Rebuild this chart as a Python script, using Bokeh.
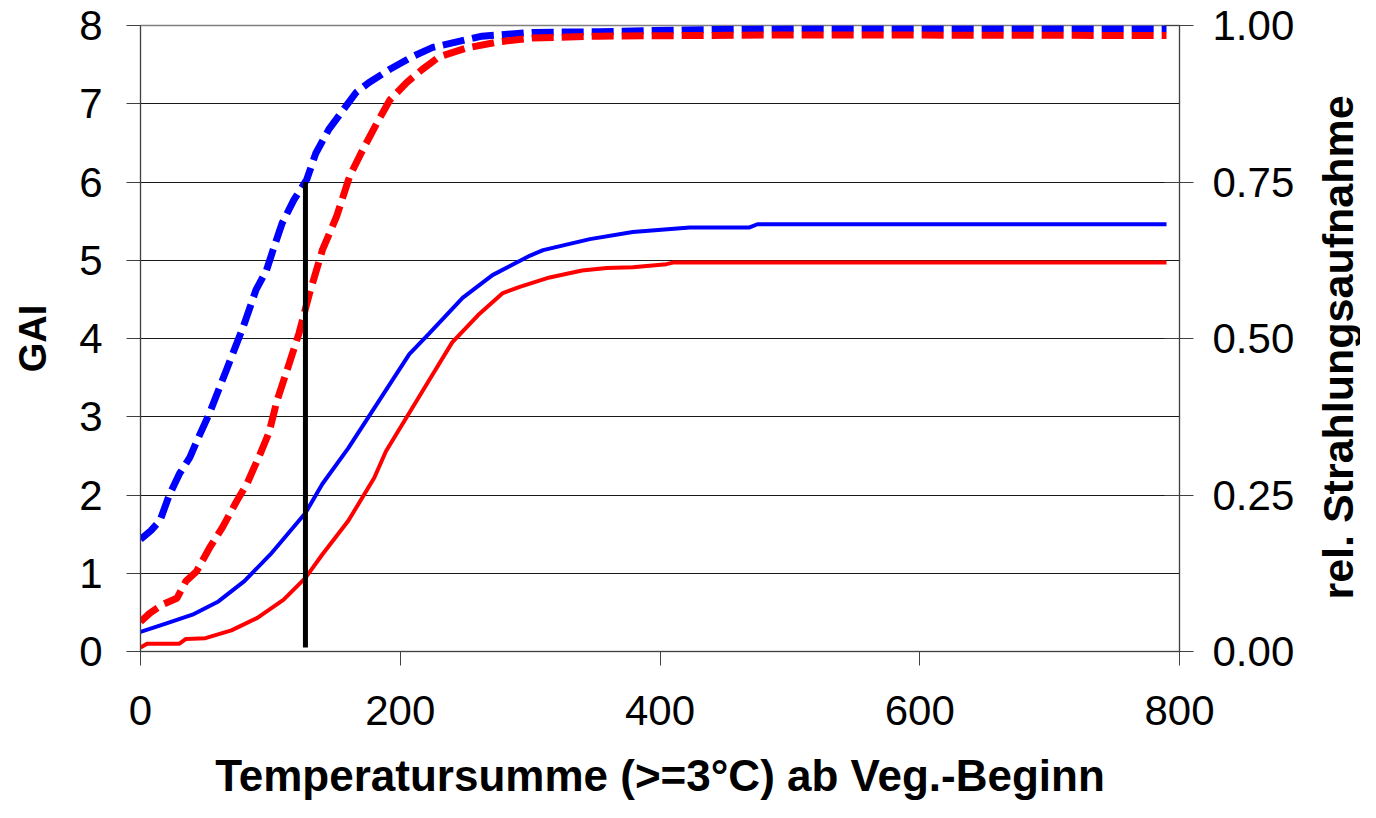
from bokeh.plotting import figure
from bokeh.layouts import row
from bokeh.models import Range1d, LinearAxis, FixedTicker, NumeralTickFormatter, Label
from bokeh.embed import file_html
from bokeh.resources import INLINE

# Temperature sum (x) and GAI (left axis) - solid lines
t_gai_blue = [0, 20, 40, 60, 80, 100, 127, 140, 160, 187, 207, 222, 248, 271, 300, 310, 346, 379, 423, 469, 475, 790]
gai_blue = [0.25, 0.36, 0.47, 0.64, 0.9, 1.24, 1.77, 2.14, 2.6, 3.29, 3.8, 4.06, 4.52, 4.81, 5.06, 5.13, 5.27, 5.36, 5.42, 5.42, 5.46, 5.46]

t_gai_red = [0, 5, 30, 35, 50, 70, 90, 110, 127, 140, 160, 180, 189, 200, 222, 240, 260, 279, 292, 315, 340, 359, 379, 405, 410, 790]
gai_red = [0.05, 0.1, 0.1, 0.16, 0.17, 0.27, 0.43, 0.66, 0.94, 1.24, 1.67, 2.22, 2.56, 2.86, 3.46, 3.95, 4.3, 4.58, 4.66, 4.78, 4.87, 4.9, 4.91, 4.95, 4.97, 4.97]

# Relative radiation interception (right axis) - dashed lines
t_rad_blue = [0, 8, 15, 22, 30, 38, 44, 53, 66, 79, 89, 97, 102, 109, 118, 128, 135, 145, 156, 166, 176, 192, 209, 225, 263, 302, 353, 420, 507, 650, 790]
rad_blue = [0.179, 0.193, 0.209, 0.249, 0.284, 0.31, 0.339, 0.38, 0.449, 0.518, 0.578, 0.609, 0.641, 0.684, 0.721, 0.754, 0.796, 0.834, 0.865, 0.893, 0.909, 0.93, 0.95, 0.965, 0.983, 0.989, 0.99, 0.993, 0.995, 0.995, 0.995]

t_rad_red = [0, 7, 17, 28, 35, 43, 53, 63, 74, 82, 92, 99, 105, 112, 122, 130, 140, 151, 161, 171, 182, 192, 205, 217, 230, 251, 276, 302, 353, 507, 790]
rad_red = [0.0475, 0.061, 0.075, 0.085, 0.1125, 0.1275, 0.165, 0.198, 0.24, 0.268, 0.315, 0.35, 0.4, 0.444, 0.508, 0.571, 0.641, 0.695, 0.759, 0.801, 0.844, 0.881, 0.909, 0.93, 0.95, 0.964, 0.974, 0.98, 0.983, 0.985, 0.984]

# Vertical marker
marker_t = [127]
marker_bottom = [0.05]
marker_top = [6.0]

x_ticks = [0, 200, 400, 600, 800]
left_ticks = [0, 1, 2, 3, 4, 5, 6, 7, 8]
right_ticks = [0, 0.25, 0.5, 0.75, 1.0]

FONT = "Liberation Sans"
H = 802

p = figure(width=1300, height=H, x_range=Range1d(0, 800), y_range=Range1d(0, 8),
           output_backend="svg", toolbar_location=None,
           min_border_left=140, min_border_right=121, min_border_top=25, min_border_bottom=151)
p.extra_y_ranges = {"right": Range1d(0, 1)}

p.background_fill_color = "white"
p.border_fill_color = "white"
p.outline_line_color = "#808080"
p.outline_line_width = 1.5

p.xgrid.visible = False
p.ygrid.ticker = FixedTicker(ticks=left_ticks)
p.ygrid.grid_line_color = "#1a1a1a"
p.ygrid.grid_line_width = 1

# x axis
xa = p.xaxis[0]
xa.ticker = FixedTicker(ticks=x_ticks)
xa.axis_label = "Temperatursumme (>=3°C) ab Veg.-Beginn"
xa.axis_label_text_font = FONT
xa.axis_label_text_font_style = "bold"
xa.axis_label_text_font_size = "44px"
xa.axis_label_text_color = "black"
xa.axis_label_standoff = 23
xa.major_label_text_font = FONT
xa.major_label_text_font_size = "42px"
xa.major_label_text_color = "black"
xa.major_label_standoff = 30
xa.major_tick_in = 0
xa.major_tick_out = 14
xa.minor_tick_line_color = None
xa.axis_line_color = "#404040"
xa.major_tick_line_color = "#404040"

# left axis
ya = p.yaxis[0]
ya.ticker = FixedTicker(ticks=left_ticks)
ya.axis_label = "GAI"
ya.axis_label_text_font = FONT
ya.axis_label_text_font_style = "bold"
ya.axis_label_text_font_size = "38px"
ya.axis_label_text_color = "black"
ya.axis_label_standoff = 22
ya.major_label_text_font = FONT
ya.major_label_text_font_size = "42px"
ya.major_label_text_color = "black"
ya.major_label_standoff = 24
ya.major_tick_in = 0
ya.major_tick_out = 14
ya.minor_tick_line_color = None
ya.axis_line_color = "#404040"
ya.major_tick_line_color = "#404040"

# right axis (ticks and labels only; its title is drawn in the side strip)
ra = LinearAxis(y_range_name="right", ticker=FixedTicker(ticks=right_ticks),
                formatter=NumeralTickFormatter(format="0.00"))
ra.major_label_text_font = FONT
ra.major_label_text_font_size = "42px"
ra.major_label_text_color = "black"
ra.major_label_standoff = 19
ra.major_tick_in = 15
ra.major_tick_out = 14
ra.minor_tick_line_color = None
ra.axis_line_color = "#404040"
ra.major_tick_line_color = "#404040"
p.add_layout(ra, "right")

# dashed radiation lines (right axis)
p.line(t_rad_blue, rad_blue, y_range_name="right", line_color="#0000FF", line_width=7, line_dash="22 8")
p.line(t_rad_red, rad_red, y_range_name="right", line_color="#FF0000", line_width=7, line_dash="22 8")

# solid GAI lines
p.line(t_gai_blue, gai_blue, line_color="#0000FF", line_width=4)
p.line(t_gai_red, gai_red, line_color="#FF0000", line_width=4)

# vertical marker
p.segment(x0=marker_t, y0=marker_bottom, x1=marker_t, y1=marker_top, line_color="black", line_width=5)

# side strip holding the right-axis title, reading bottom-to-top
side = figure(width=60, height=H, x_range=Range1d(0, 60), y_range=Range1d(0, 8),
              x_axis_type=None, y_axis_type=None, output_backend="svg", toolbar_location=None,
              min_border=0, min_border_left=0, min_border_right=0, min_border_top=0, min_border_bottom=0)
side.outline_line_color = None
side.background_fill_color = "white"
side.border_fill_color = "white"
side.add_layout(Label(x=37, y=3.885, text="rel. Strahlungsaufnahme", angle=90, angle_units="deg",
                      text_align="center", text_baseline="middle", text_font=FONT,
                      text_font_style="bold", text_font_size="43px", text_color="black"))

layout = row(p, side)
open("out.html", "w").write(file_html(layout, INLINE))
